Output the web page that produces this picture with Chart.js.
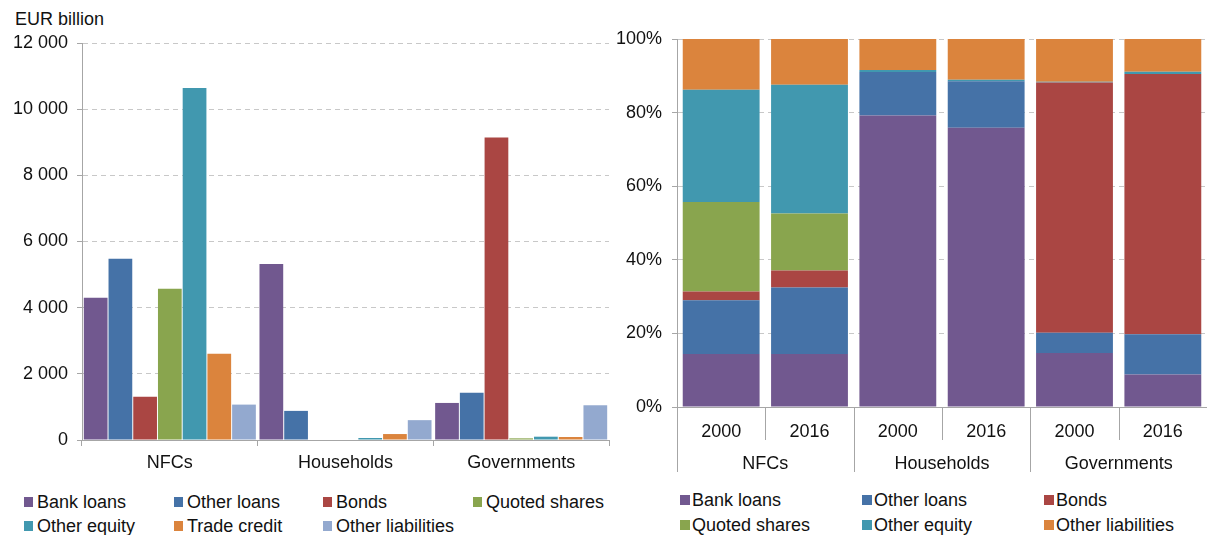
<!DOCTYPE html>
<html>
<head>
<meta charset="utf-8">
<script src="https://cdn.jsdelivr.net/npm/chart.js@4.4.1/dist/chart.umd.min.js"></script>
<style>
  body { margin: 0; background: #fff; width: 1207px; height: 535px; overflow: hidden; position: relative;
         font-family: "Liberation Sans", Arial, sans-serif; color: #111; }
  #left { position: absolute; left: 0; top: 0; width: 612px; height: 480px; }
  #right { position: absolute; left: 600px; top: 0; width: 607px; height: 474px; }
  .unit { position: absolute; left: 15px; top: 8px; font-size: 18px; line-height: 22px; }
  .lg { position: absolute; font-size: 18px; line-height: 22px; white-space: nowrap; }
  .sq { position: absolute; }
</style>
</head>
<body>
<div class="unit">EUR billion</div>
<div id="left"><canvas id="barChart"></canvas></div>
<div id="right"><canvas id="shareChart"></canvas></div>
<div id="legendLeft"></div>
<div id="legendRight"></div>
<script>
// left panel: EUR billion by sector
const sectors = ['NFCs', 'Households', 'Governments'];
const instruments = ['Bank loans', 'Other loans', 'Bonds', 'Quoted shares', 'Other equity', 'Trade credit', 'Other liabilities'];
const bankLoans = [4300, 5320, 1120];
const otherLoans = [5480, 880, 1430];
const bonds = [1310, 0, 9140];
const quotedShares = [4570, 0, 50];
const otherEquity = [10640, 60, 100];
const tradeCredit = [2610, 180, 90];
const otherLiabilities = [1070, 600, 1050];
const yTicksLeft = [0, 2000, 4000, 6000, 8000, 10000, 12000];

// right panel: shares in %, bars = sector x year
const years = ['2000', '2016'];
const shareInstruments = ['Bank loans', 'Other loans', 'Bonds', 'Quoted shares', 'Other equity', 'Other liabilities'];
const shareBankLoans = [14.4, 14.4, 79.2, 75.9, 14.7, 8.8];
const shareOtherLoans = [14.6, 18.1, 11.8, 12.6, 5.5, 11.0];
const shareBonds = [2.4, 4.6, 0, 0, 68.0, 70.7];
const shareQuotedShares = [24.3, 15.5, 0, 0, 0, 0];
const shareOtherEquity = [30.5, 35.0, 0.6, 0.4, 0.2, 0.6];
const shareOtherLiabilities = [13.8, 12.4, 8.4, 11.1, 11.6, 8.9];

const colors = {
  'Bank loans': '#71588F',
  'Other loans': '#4572A7',
  'Bonds': '#AA4643',
  'Quoted shares': '#89A54E',
  'Other equity': '#4198AF',
  'Trade credit': '#DB843D',
  'Other liabilities': '#93A9CF'
};
const font = { family: '"Liberation Sans", Arial, sans-serif', size: 18 };
const txt = '#111';
const axisGrey = '#a6a6a6';
const gridGrey = '#c8c8c8';

const thousands = v => String(v).replace(/\B(?=(\d{3})+(?!\d))/g, ' ');

const leftValues = [bankLoans, otherLoans, bonds, quotedShares, otherEquity, tradeCredit, otherLiabilities];
new Chart(document.getElementById('barChart'), {
  type: 'bar',
  data: {
    labels: sectors,
    datasets: instruments.map((name, i) => ({
      label: name,
      data: leftValues[i],
      backgroundColor: colors[name],
      borderWidth: 0,
      barPercentage: 0.96,
      categoryPercentage: 0.985
    }))
  },
  options: {
    responsive: true,
    maintainAspectRatio: false,
    animation: false,
    layout: { padding: { top: 43, right: 3, left: 0, bottom: 0 } },
    plugins: { legend: { display: false }, tooltip: { enabled: false } },
    scales: {
      x: {
        grid: { offset: true, drawOnChartArea: false, color: axisGrey, tickLength: 6 },
        border: { display: true, color: axisGrey },
        ticks: { color: txt, font: font, padding: 6 },
        afterFit: s => { s.height = 40; }
      },
      y: {
        min: 0, max: 12000,
        afterBuildTicks: s => { s.ticks = yTicksLeft.map(v => ({ value: v })); },
        grid: { color: gridGrey, tickColor: axisGrey, tickLength: 5, tickBorderDash: [] },
        border: { display: true, color: axisGrey, dash: [5, 4] },
        ticks: { color: txt, font: font, padding: 9, callback: v => thousands(v) },
        afterFit: s => { s.width = 82; }
      }
    }
  }
});

const rightValues = [shareBankLoans, shareOtherLoans, shareBonds, shareQuotedShares, shareOtherEquity, shareOtherLiabilities];
const barLabels = [];
sectors.forEach(s => years.forEach(y => barLabels.push(y)));

const separators = {
  id: 'separators',
  afterDraw(chart) {
    const x = chart.scales.x, x2 = chart.scales.x2;
    const ctx = chart.ctx;
    ctx.save();
    ctx.strokeStyle = axisGrey;
    ctx.lineWidth = 1;
    for (let i = 0; i <= barLabels.length; i++) {
      const px = Math.round(x.getPixelForValue(i - 0.5)) + 0.5;
      const bottom = (i % years.length === 0) ? x2.bottom - 2 : x.bottom;
      ctx.beginPath();
      ctx.moveTo(px, x.top);
      ctx.lineTo(px, bottom);
      ctx.stroke();
    }
    ctx.restore();
  }
};

new Chart(document.getElementById('shareChart'), {
  type: 'bar',
  data: {
    labels: barLabels,
    datasets: shareInstruments.map((name, i) => ({
      label: name,
      data: rightValues[i],
      backgroundColor: name === 'Other liabilities' ? colors['Trade credit'] : colors[name],
      borderWidth: 0,
      barPercentage: 0.87,
      categoryPercentage: 1
    }))
  },
  options: {
    responsive: true,
    maintainAspectRatio: false,
    animation: false,
    layout: { padding: { top: 39, right: 0, left: 0, bottom: 0 } },
    plugins: { legend: { display: false }, tooltip: { enabled: false } },
    scales: {
      x: {
        stacked: true,
        grid: { display: false },
        border: { display: true, color: axisGrey },
        ticks: { color: txt, font: font, padding: 6, maxRotation: 0, autoSkip: false },
        afterFit: s => { s.height = 33; }
      },
      x2: {
        type: 'category',
        position: 'bottom',
        labels: sectors,
        offset: true,
        grid: { display: false },
        border: { display: false },
        ticks: { color: txt, font: font, padding: 5, maxRotation: 0 },
        afterFit: s => { s.height = 34; }
      },
      y: {
        stacked: true,
        min: 0, max: 100,
        ticks: { stepSize: 20, color: txt, font: font, padding: 10, callback: v => v + '%' },
        grid: { color: gridGrey, tickColor: axisGrey, tickLength: 5, tickBorderDash: [] },
        border: { display: true, color: axisGrey, dash: [5, 4] },
        afterFit: s => { s.width = 77; }
      }
    }
  },
  plugins: [separators]
});

// legends
function legend(el, names, xs, rows, sq, gap, colorOf) {
  const host = document.getElementById(el);
  names.forEach((name, i) => {
    const col = i % xs.length, row = Math.floor(i / xs.length);
    const box = document.createElement('div');
    box.className = 'sq';
    box.style.left = xs[col] + 'px';
    box.style.top = (rows[row] - sq[1] / 2) + 'px';
    box.style.width = sq[0] + 'px';
    box.style.height = sq[1] + 'px';
    box.style.background = colorOf(name);
    host.appendChild(box);
    const t = document.createElement('div');
    t.className = 'lg';
    t.textContent = name;
    t.style.left = (xs[col] + gap) + 'px';
    t.style.top = (rows[row] - 11) + 'px';
    host.appendChild(t);
  });
}
legend('legendLeft', instruments, [24, 174, 323, 473], [502, 526], [9, 10], 13, n => colors[n]);
legend('legendRight', shareInstruments, [680, 862, 1044], [500, 525], [10, 10], 12,
  n => n === 'Other liabilities' ? colors['Trade credit'] : colors[n]);
</script>
</body>
</html>
